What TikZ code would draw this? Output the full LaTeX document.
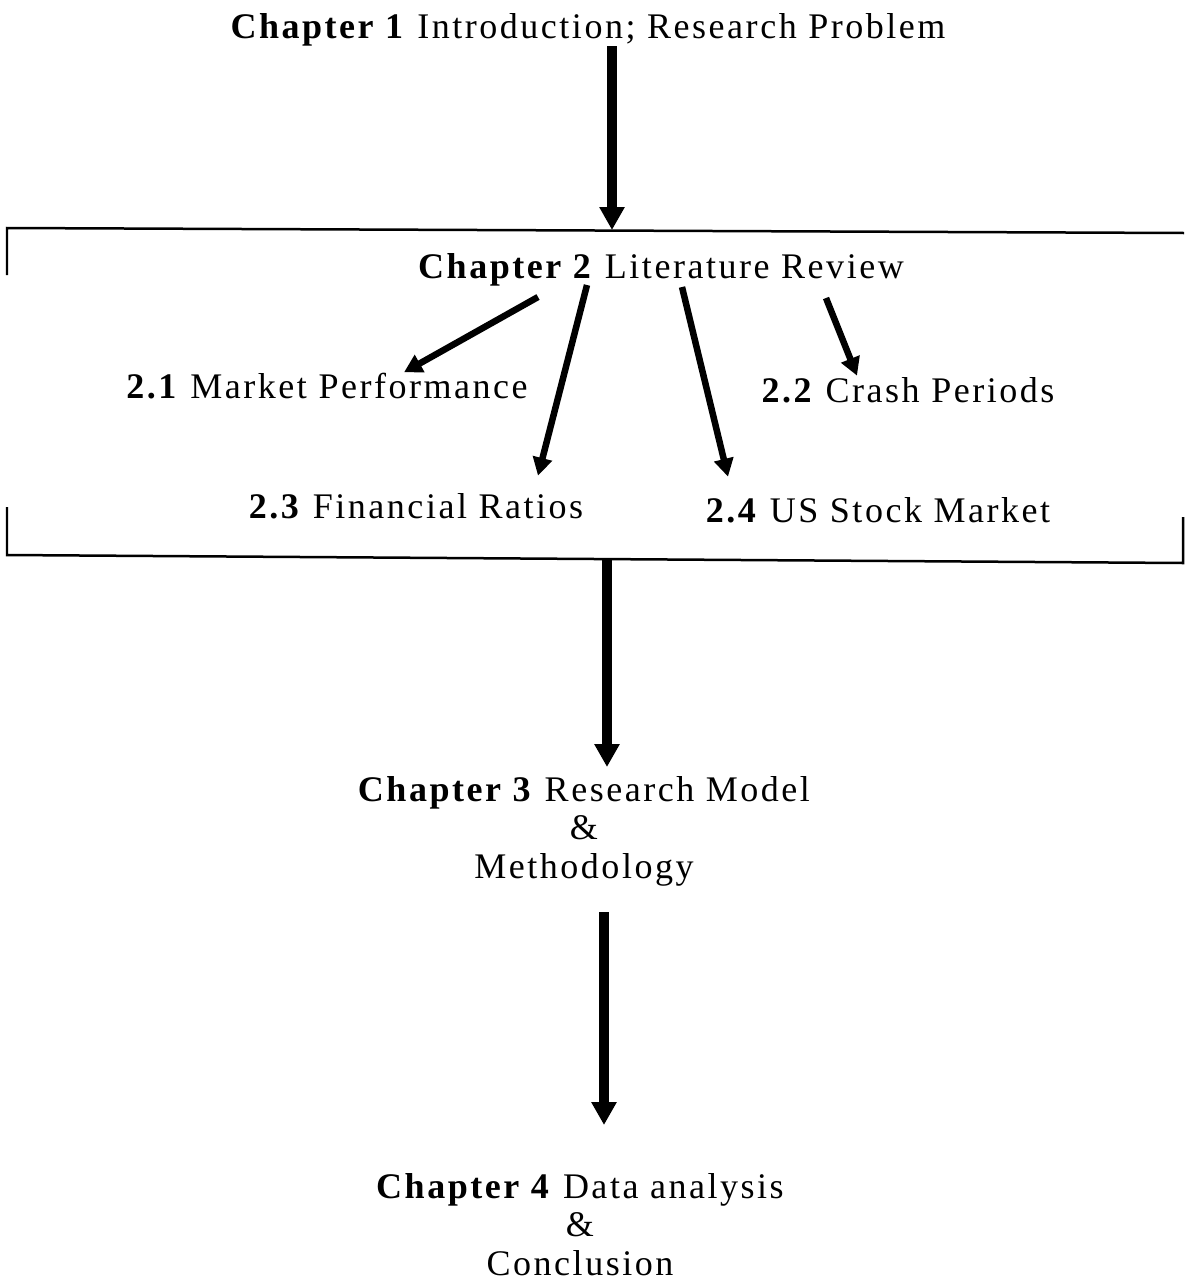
\documentclass[tikz,border=0pt]{standalone}
\usepackage{fontspec}
\setmainfont{Liberation Serif}[LetterSpace=7]
\usetikzlibrary{arrows.meta,calc}
\tikzset{
  chaptertext/.style={inner sep=0pt, font=\fontsize{20.5}{21.8}\selectfont, align=center},
  bigarrow/.style={line width=0.2cm, -{Triangle[length=0.46cm,width=0.48cm]}},
  subarrow/.style={line width=0.13cm, -{Triangle[length=0.36cm,width=0.38cm]}}
}
\begin{document}
\begin{tikzpicture}[x=0.02cm, y=-0.02cm]
      \useasboundingbox (0,0) rectangle (1184,1281);
      % chapters and sections
      \node[chaptertext, anchor=base] (ch1) at (588,38) {\textbf{Chapter 1} Introduction; Research Problem};
      \node[chaptertext, anchor=base] (ch2) at (661,278) {\textbf{Chapter 2} Literature Review};
      \node[chaptertext, anchor=base] (sec21) at (327,398) {\textbf{2.1} Market Performance};
      \node[chaptertext, anchor=base] (sec22) at (908,402) {\textbf{2.2} Crash Periods};
      \node[chaptertext, anchor=base] (sec23) at (416,518) {\textbf{2.3} Financial Ratios};
      \node[chaptertext, anchor=base] (sec24) at (878,522) {\textbf{2.4} US Stock Market};
      % base of a multi-line node is its last line
      \node[chaptertext, anchor=base] (ch3) at (584,878) {\textbf{Chapter 3} Research Model\\ \&\\ Methodology};
      \node[chaptertext, anchor=base] (ch4) at (580,1275) {\textbf{Chapter 4} Data analysis\\ \&\\ Conclusion};
      % frame round chapter 2
      \coordinate (boxtop) at (612,230);
      \coordinate (boxbot) at (607,559);
      \draw[line width=0.05cm] (7,275) -- (7,228) -- (1184,233);
      \draw[line width=0.05cm] (7,507) -- (7,555) -- (1183,563) -- (1183,517);
      % arrows
      \draw[bigarrow] (ch1.south -| boxtop) -- (boxtop);
      \draw[bigarrow] (boxbot) -- (boxbot |- 0,767);
      \draw[bigarrow] (604,912) -- (604,1125);
      \draw[subarrow] ($(ch2.south)+(-123,11)$) -- ($(sec21.north)+(77,0)$);
      \draw[subarrow] ($(ch2.south)+(-74,-1)$) -- ($(sec23.north)+(122,-17)$);
      \draw[subarrow] ($(ch2.south)+(21,1)$) -- ($(sec24.north)+(-150,-20)$);
      \draw[subarrow] ($(ch2.south)+(165,12)$) -- ($(sec22.north)+(-51,-1)$);
    \end{tikzpicture}
\end{document}
